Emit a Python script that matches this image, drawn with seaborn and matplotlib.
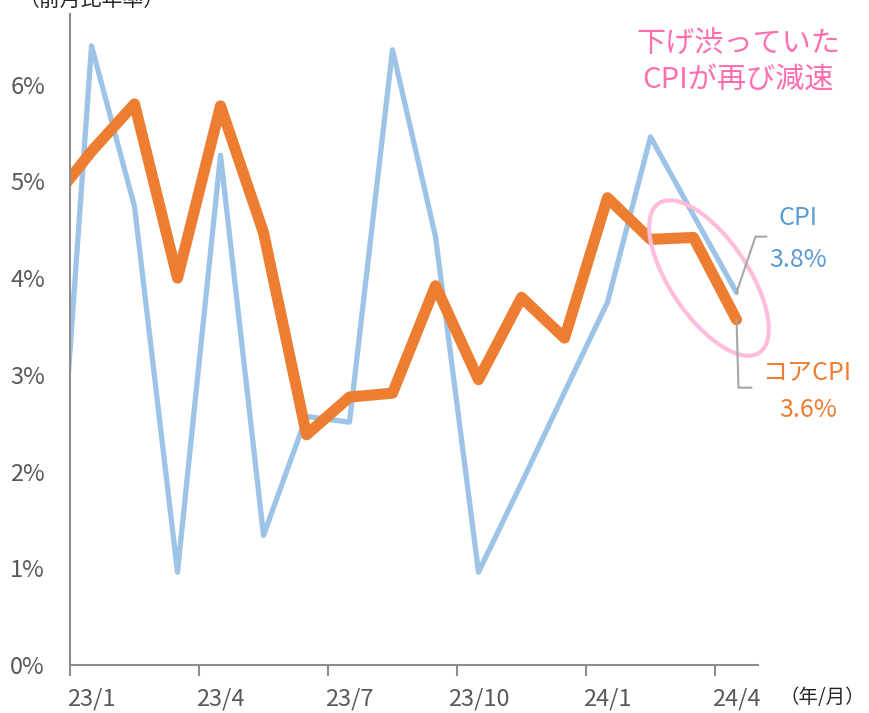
import pandas as pd
import matplotlib.pyplot as plt
import seaborn as sns
from matplotlib.patches import Ellipse
from matplotlib.lines import Line2D

# 月次データ (前月比年率, %)
months = ["22/12", "23/1", "23/2", "23/3", "23/4", "23/5", "23/6", "23/7", "23/8",
          "23/9", "23/10", "23/11", "23/12", "24/1", "24/2", "24/3", "24/4"]
cpi = [0.10, 6.40, 4.74, 0.96, 5.27, 1.34, 2.57, 2.51, 6.36,
       4.43, 0.96, 1.88, 2.82, 3.75, 5.46, 4.65, 3.85]
core = [4.75, 5.31, 5.80, 4.00, 5.78, 4.47, 2.38, 2.77, 2.81,
        3.92, 2.95, 3.80, 3.38, 4.83, 4.40, 4.42, 3.57]
tick_labels = ["23/1", "23/4", "23/7", "23/10", "24/1", "24/4"]
y_ticks = [0, 1, 2, 3, 4, 5, 6]

sns.set_theme(style="white")
plt.rcParams["font.family"] = ["Noto Sans CJK JP", "DejaVu Sans"]

pos = [i - 1 for i in range(len(months))]  # 23/1 -> 0
df = pd.DataFrame({"pos": pos, "month": months, "CPI": cpi, "コアCPI": core})

fig = plt.figure(figsize=(8.7, 7.13), dpi=100)
ax = fig.add_axes([70 / 870, 48 / 713, 688 / 870, 651 / 713])

sns.lineplot(data=df, x="pos", y="CPI", ax=ax, color="#9DC3E6", linewidth=3.8,
             sort=False, solid_joinstyle="round", solid_capstyle="round")
sns.lineplot(data=df, x="pos", y="コアCPI", ax=ax, color="#ED7D31", linewidth=8,
             sort=False, solid_joinstyle="round", solid_capstyle="round")

ax.set_xlim(-0.5, len(months) - 1.5)
ax.set_ylim(0, 6.73)
ax.set_xlabel("")
ax.set_ylabel("")

# 目盛り: ラベルは月の中央、目盛り線は区切り
label_pos = [months.index(t) - 1 for t in tick_labels]
ax.set_xticks(label_pos)
ax.set_xticklabels(tick_labels, fontsize=17, color="#595959")
ax.set_xticks([p - 0.5 for p in label_pos], minor=True)
ax.tick_params(axis="x", which="major", length=0, pad=16)
ax.tick_params(axis="x", which="minor", length=8, width=1.5, color="#8C8C8C", direction="out", bottom=True)
ax.set_yticks(y_ticks)
ax.set_yticklabels([f"{v}%" for v in y_ticks], fontsize=17, color="#595959")
ax.tick_params(axis="y", length=0, pad=18)

sns.despine(ax=ax)
for side in ["left", "bottom"]:
    ax.spines[side].set_color("#8C8C8C")
    ax.spines[side].set_linewidth(1.5)

W, H = 870, 713

def fx(x):
    return x / W

def fy(y):
    return 1 - y / H

# 上端で切れている単位ラベル
fig.text(fx(165), 1.0, "（前月比年率）", ha="right", va="center", fontsize=15, color="#262626")
fig.text(fx(822), fy(698), "（年/月）", ha="center", va="center", fontsize=14, color="#262626")

# コメント
fig.text(fx(738), fy(63), "下げ渋っていた\nCPIが再び減速", ha="center", va="center",
         fontsize=21, color="#FF6FB0", linespacing=1.25)

# 強調の楕円
fig.canvas.draw()
ell = Ellipse((709, H - 278), width=180, height=78, angle=-56, fill=False,
              edgecolor="#FFBCDC", linewidth=3, transform=None)
fig.add_artist(ell)

# 引き出し線
cx, cy = ax.transData.transform((pos[-1], cpi[-1]))
kx, ky = ax.transData.transform((pos[-1], core[-1]))
fig.add_artist(Line2D([cx, cx + 19, cx + 30], [cy, cy + 56, cy + 56],
                      color="#A6A6A6", linewidth=1.5, transform=None))
fig.add_artist(Line2D([kx, kx + 2, kx + 15], [ky, ky - 68, ky - 68],
                      color="#A6A6A6", linewidth=1.5, transform=None))

fig.text(fx(798), fy(218), "CPI", ha="center", va="center", fontsize=18, color="#5B9BD5")
fig.text(fx(798), fy(260), "3.8%", ha="center", va="center", fontsize=18, color="#5B9BD5")
fig.text(fx(807), fy(373), "コアCPI", ha="center", va="center", fontsize=18, color="#ED7D31")
fig.text(fx(808), fy(410), "3.6%", ha="center", va="center", fontsize=18, color="#ED7D31")

fig.savefig("out.png", dpi=100)
